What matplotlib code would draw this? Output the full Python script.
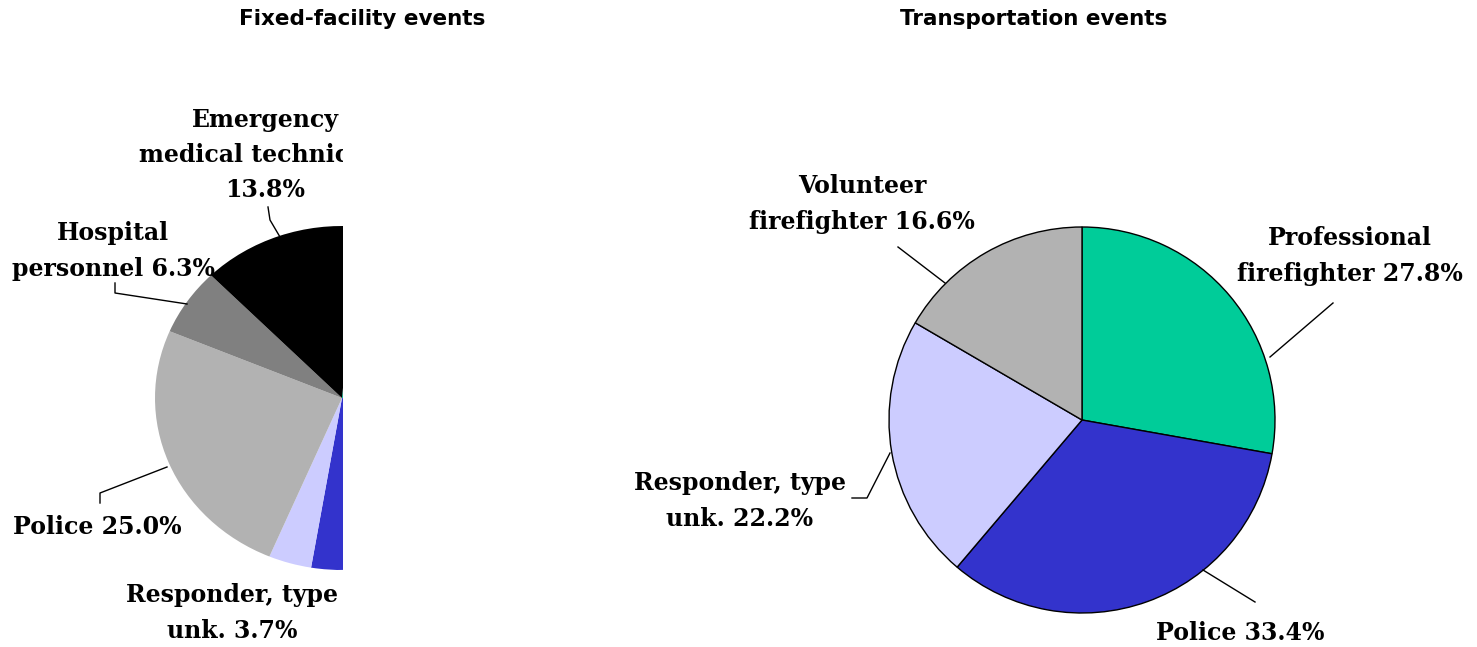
import matplotlib
matplotlib.use("Agg")
import matplotlib.pyplot as plt
from matplotlib.lines import Line2D
from matplotlib.transforms import Bbox, TransformedBbox

# Fixed-facility events (right half of this pie is cut off in the original)
ff_names = ["Professional firefighter", "Other", "Responder, type unk.",
            "Police", "Hospital personnel", "Emergency medical technician"]
ff_values = [27.6, 23.6, 3.7, 25.0, 6.3, 13.8]
ff_colors = ["#00CC99", "#3333CC", "#CCCCFF", "#B2B2B2", "#808080", "#000000"]
ff_labels = [None, None, "Responder, type\nunk. {:.1f}%", "Police {:.1f}%",
             "Hospital\npersonnel {:.1f}%", "Emergency\nmedical technician\n{:.1f}%"]

# Transportation events
tr_names = ["Professional firefighter", "Police", "Responder, type unk.",
            "Volunteer firefighter"]
tr_values = [27.8, 33.4, 22.2, 16.6]
tr_colors = ["#00CC99", "#3333CC", "#CCCCFF", "#B2B2B2"]
tr_labels = ["Professional\nfirefighter {:.1f}%", "Police {:.1f}%",
             "Responder, type\nunk. {:.1f}%", "Volunteer\nfirefighter {:.1f}%"]

W, H = 1477, 647
fig = plt.figure(figsize=(W / 100, H / 100), dpi=100)


def px(x, y):
    # pixel position (from top-left) -> figure fraction
    return x / W, 1 - y / H


def pie_axes(cx, cy, rx, ry, xlim, ylim):
    x0 = cx + xlim[0] * rx
    x1 = cx + xlim[1] * rx
    top = cy - ylim[1] * ry
    bottom = cy - ylim[0] * ry
    ax = fig.add_axes([x0 / W, 1 - bottom / H, (x1 - x0) / W, (bottom - top) / H])
    return ax


label_font = dict(family="DejaVu Serif", weight="bold", fontsize=17,
                  ha="center", va="center", linespacing=1.6)

# the original chart area ends at x = 343 px, cutting the left pie in half
cut = TransformedBbox(Bbox.from_extents(0, 0, 343 / W, 1), fig.transFigure)

# ---- left pie ----
ax1 = pie_axes(342, 398, 187, 172, (-1.25, 0.005), (-1.3, 1.3))
wedges, _ = ax1.pie(ff_values, colors=ff_colors, startangle=84.8,
                    counterclock=False, wedgeprops=dict(linewidth=0))
for w in wedges:
    w.set_clip_on(True)
    w.set_clip_box(cut)
ax1.set_aspect("auto")
ax1.set_xlim(-1.25, 0.005)
ax1.set_ylim(-1.3, 1.3)
ax1.axis("off")

ff_pos = [None, None, (232, 613), (97, 527), (113, 251), (265, 155)]
for lab, v, pos in zip(ff_labels, ff_values, ff_pos):
    if lab is None:
        continue
    t = fig.text(*px(*pos), lab.format(v), **label_font)
    t.set_clip_box(cut)
    t.set_clip_on(True)

ff_leaders = [
    [(268, 207), (270, 220), (280, 237)],
    [(115, 283), (115, 293), (187, 304)],
    [(100, 503), (100, 493), (167, 467)],
]

# ---- right pie ----
ax2 = pie_axes(1082, 420, 193, 193, (-1.3, 1.3), (-1.3, 1.3))
ax2.pie(tr_values, colors=tr_colors, startangle=90, counterclock=False,
        wedgeprops=dict(edgecolor="black", linewidth=1))
ax2.set_aspect("auto")
ax2.set_xlim(-1.3, 1.3)
ax2.set_ylim(-1.3, 1.3)
ax2.axis("off")

tr_pos = [(1350, 256), (1240, 633), (740, 501), (862, 204)]
for lab, v, pos in zip(tr_labels, tr_values, tr_pos):
    fig.text(*px(*pos), lab.format(v), **label_font)

tr_leaders = [
    [(1333, 303), (1270, 357)],
    [(1203, 570), (1255, 602)],
    [(852, 498), (867, 498), (890, 453)],
    [(898, 247), (945, 283)],
]

for pts in ff_leaders + tr_leaders:
    xs = [px(*p)[0] for p in pts]
    ys = [px(*p)[1] for p in pts]
    fig.add_artist(Line2D(xs, ys, color="black", linewidth=1))

# titles
title_font = dict(family="DejaVu Sans", weight="bold", fontsize=15.5,
                  ha="center", va="center")
fig.text(*px(362, 19), "Fixed-facility events", **title_font)
fig.text(*px(1034, 19), "Transportation events", **title_font)

fig.savefig("out.png", dpi=100, facecolor="white")
